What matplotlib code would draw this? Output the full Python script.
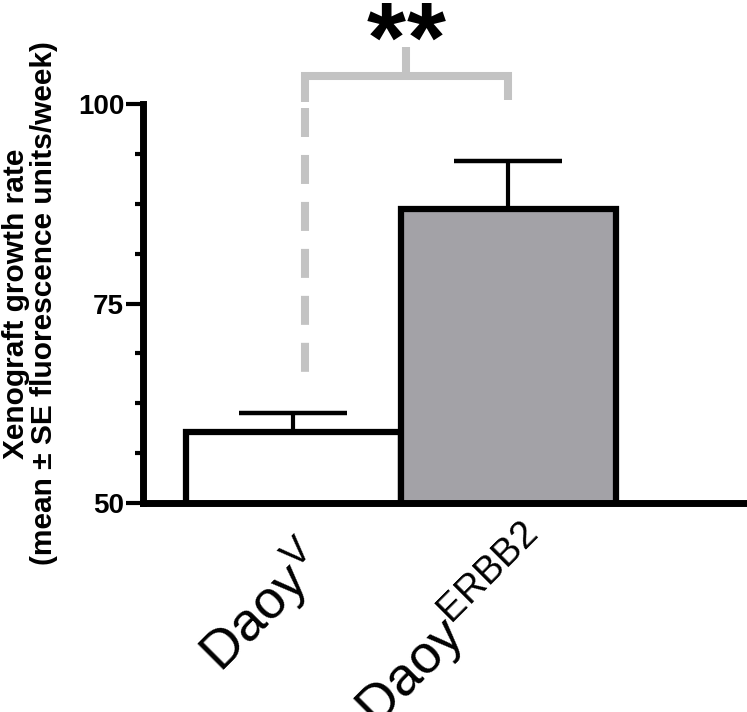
import matplotlib
matplotlib.use("Agg")
import matplotlib.pyplot as plt
from matplotlib.ticker import MultipleLocator
from matplotlib.transforms import ScaledTranslation

plt.rcParams['font.family'] = ['Liberation Sans', 'DejaVu Sans']
plt.rcParams['mathtext.fontset'] = 'custom'
plt.rcParams['mathtext.rm'] = 'Liberation Sans'
plt.rcParams['mathtext.it'] = 'Liberation Sans'

groups = [r"Daoy$^{\mathrm{V}}$", r"Daoy$^{\mathrm{ERBB2}}$"]
growth = [58.9, 86.9]
se = [2.4, 6.0]
colors = ["white", "#a3a2a7"]

fig = plt.figure(figsize=(7.47, 7.12), dpi=100)
ax = fig.add_axes([0.1914, 0.2935, 0.8086, 0.5604])

x = range(len(groups))
ax.errorbar(x, growth, yerr=[[0, 0], se], fmt='none', ecolor='black',
            elinewidth=3, capsize=39, capthick=3.2, zorder=1)
ax.bar(x, growth, width=1.0, color=colors, edgecolor='black', linewidth=4.5, zorder=2)

ax.set_xlim(-0.698, 2.11)
ax.set_ylim(50, 100)
ax.yaxis.set_major_locator(MultipleLocator(25))
ax.yaxis.set_minor_locator(MultipleLocator(6.25))

for s in ['top', 'right']:
    ax.spines[s].set_visible(False)
for s in ['left', 'bottom']:
    ax.spines[s].set_linewidth(5)
    ax.spines[s].set_zorder(3)

ax.tick_params(axis='y', which='major', length=12, width=3, pad=1.5, labelsize=20)
ax.tick_params(axis='y', which='minor', length=6, width=3)
ax.tick_params(axis='x', length=0, pad=8)
for lab in ax.get_yticklabels():
    lab.set_fontweight('bold')

ax.set_xticks(list(x))
ax.set_xticklabels(groups, rotation=45, ha='right', rotation_mode='anchor', fontsize=39)
# nudge the rotated labels (points)
for lab, (dx, dy) in zip(ax.get_xticklabels(), [(1.5, -12), (8.5, -2)]):
    lab.set_transform(lab.get_transform() + ScaledTranslation(dx / 72, dy / 72, fig.dpi_scale_trans))

ax.set_ylabel("Xenograft growth rate\n(mean \u00b1 SE fluorescence units/week)",
              fontsize=21.5, fontweight='bold', linespacing=1.0)
ax.yaxis.set_label_coords(-0.140, 0.5)

# significance bracket
gray = '#c3c3c3'
ax.plot([0.056, 0.056, 1.0, 1.0], [100.25, 103.5, 103.5, 100.5], color=gray, lw=5.8,
        clip_on=False, solid_joinstyle='miter', solid_capstyle='butt')
ax.plot([0.526, 0.526], [103.5, 107.1], color=gray, lw=5.8, clip_on=False,
        solid_capstyle='butt')
ax.plot([0.056, 0.056], [99.5, 66.4], color=gray, lw=5.8, clip_on=False,
        dashes=(3.6, 2.23), dash_capstyle='butt', zorder=1)
# two stars, slightly apart
for dx in (-14.5, 14.5):
    star = ax.text(0.526, 104.0, "*", ha='center', va='baseline', fontsize=72, fontweight='bold')
    star.set_transform(star.get_transform() + ScaledTranslation(dx / 72, 0, fig.dpi_scale_trans))

fig.savefig("out.png", dpi=100)
